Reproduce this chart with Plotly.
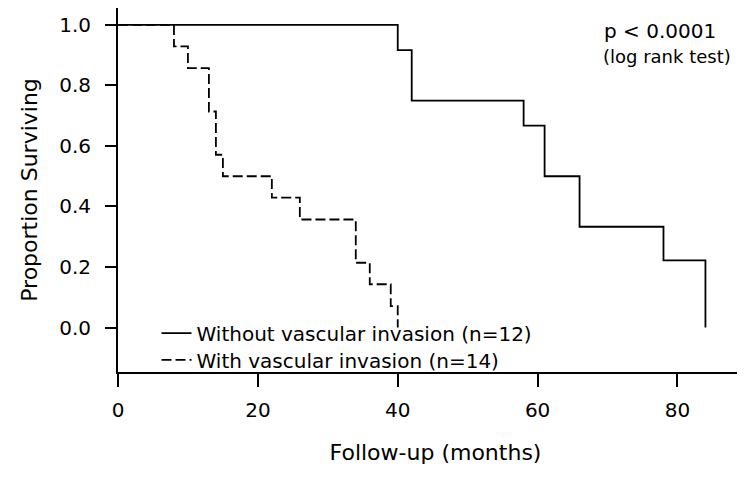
import plotly.graph_objects as go

# Kaplan-Meier step data
without_months = [0, 40, 42, 58, 61, 66, 78, 84]
without_surv = [1.0, 0.917, 0.75, 0.667, 0.5, 0.333, 0.222, 0.0]

with_months = [0, 8, 10, 13, 14, 15, 22, 26, 34, 36, 39, 40]
with_surv = [1.0, 0.929, 0.857, 0.714, 0.571, 0.5, 0.429, 0.357, 0.214, 0.143, 0.071, 0.0]

x_ticks = [0, 20, 40, 60, 80]
y_ticks = [0.0, 0.2, 0.4, 0.6, 0.8, 1.0]
y_tick_labels = ["0.0", "0.2", "0.4", "0.6", "0.8", "1.0"]

FONT = "DejaVu Sans, Arial, sans-serif"

# the page body adds an 8px offset; margins compensate for it
ML, MB = 110, 114
W, H = 745, 478
plot_w = W - ML
plot_h = H - MB

fig = go.Figure()
# dashed curve first so the solid one sits on top where they overlap
fig.add_trace(go.Scatter(
    x=with_months, y=with_surv, mode="lines", line_shape="hv",
    line=dict(color="black", width=1.8, dash="10px,4px"),
    name="With vascular invasion (n=14)", legend="legend2"))
fig.add_trace(go.Scatter(
    x=without_months, y=without_surv, mode="lines", line_shape="hv",
    line=dict(color="black", width=1.8),
    name="Without vascular invasion (n=12)", legend="legend"))

leg_common = dict(xanchor="left", yanchor="top", bgcolor="rgba(0,0,0,0)",
                  font=dict(size=20, family=FONT), itemwidth=30)

fig.update_layout(
    width=W, height=H,
    margin=dict(l=ML, r=0, t=0, b=MB, autoexpand=False),
    paper_bgcolor="white", plot_bgcolor="white",
    font=dict(family=FONT, color="black"),
    showlegend=True,
    legend=dict(x=(148.5 - ML) / plot_w, y=(plot_h - 305.7) / plot_h, **leg_common),
    legend2=dict(x=(148.5 - ML) / plot_w, y=(plot_h - 332.3) / plot_h, **leg_common),
    xaxis=dict(
        range=[0, 90.8], tickvals=x_ticks, showgrid=False, zeroline=False,
        automargin=False,
        showline=True, linecolor="black", linewidth=2,
        ticks="outside", ticklen=13, tickwidth=1.8, tickcolor="black",
        tickfont=dict(size=20), ticklabelstandoff=6,
        title=dict(text="Follow-up (months)", font=dict(size=22), standoff=24)),
    yaxis=dict(
        range=[-0.147, 1.056], tickvals=y_ticks, ticktext=y_tick_labels,
        showgrid=False, zeroline=False, automargin=False,
        showline=True, linecolor="black", linewidth=2,
        ticks="outside", ticklen=11, tickwidth=1.8, tickcolor="black",
        tickfont=dict(size=20), ticklabelstandoff=10,
        title=dict(text="Proportion Surviving", font=dict(size=22), standoff=15)),
)

# p-value annotation, placed in paper coordinates computed from pixel targets
note_texts = ["p < 0.0001", "(log rank test)"]
note_sizes = [20, 18]
note_px = [(594, 22.5), (593, 49)]
anns = []
for text, size, (px, py) in zip(note_texts, note_sizes, note_px):
    anns.append(dict(text=text, x=(px - ML) / plot_w, y=1 - py / plot_h,
                     xref="paper", yref="paper", xanchor="left", yanchor="middle",
                     showarrow=False, font=dict(size=size, family=FONT)))
fig.update_layout(annotations=anns)

fig.write_html("out.html")
